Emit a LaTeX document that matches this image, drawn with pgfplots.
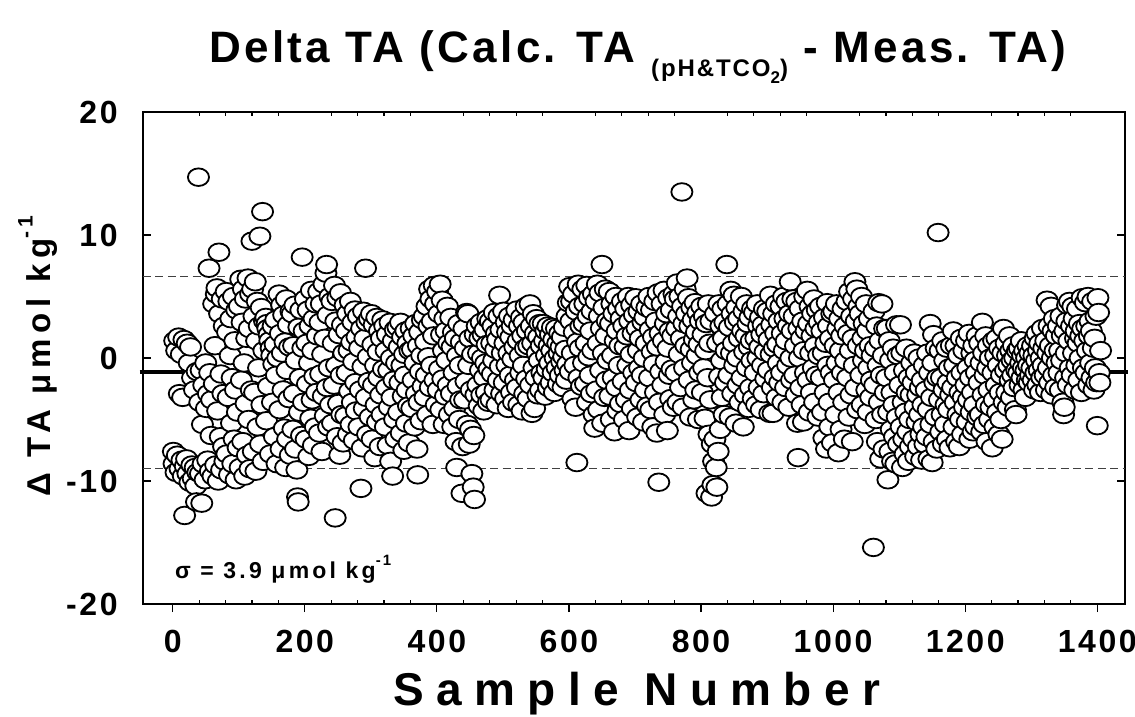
\documentclass[border=0pt]{standalone}
\usepackage{fontspec}
\setmainfont{Liberation Sans}
\newfontfamily\lsT[LetterSpace=7.5]{Liberation Sans}
\newfontfamily\lsX[LetterSpace=27]{Liberation Sans}
\newfontfamily\lsY[LetterSpace=18]{Liberation Sans}
\newfontfamily\lsK[LetterSpace=8]{Liberation Sans}
\newfontfamily\lsS[LetterSpace=14]{Liberation Sans}
\usepackage{pgfplots}
\pgfplotsset{compat=1.18}
\begin{document}
\begin{tikzpicture}
\path[use as bounding box] (0,0) rectangle (567.5pt,-358.5pt);
\begin{axis}[
  at={(71.5pt,-302pt)}, anchor=south west,
  scale only axis, width=491pt, height=246pt,
  xmin=-45, xmax=1442, ymin=-20, ymax=20,
  clip=false,
  xtick={0,200,400,600,800,1000,1200,1400},
  xticklabels={0,200,400,600,800,1000,1200,1400},
  ytick={-20,-10,0,10,20},
  yticklabels={-20,-10,0,10,20},
  minor x tick num=4,
  tick align=inside,
  major x tick style={draw=none},
  major tick length=4pt, minor tick length=1.8pt,
  tick style={line width=0.6pt, black},
  axis line style={line width=0.8pt},
  ticklabel style={font=\lsK\bfseries\fontsize{16}{17}\selectfont, inner sep=0pt},
  xticklabel style={anchor=center, yshift=-18.5pt},
  yticklabel style={anchor=east, xshift=-12.5pt},
]
\addplot[black!75, line width=0.5pt, dash pattern=on 4pt off 2.2pt] coordinates {(-45,6.65) (1442,6.65)};
\addplot[black!75, line width=0.5pt, dash pattern=on 4pt off 2.2pt] coordinates {(-45,-8.95) (1442,-8.95)};
\addplot[black, line width=2pt] coordinates {(-50,-1.15) (1446,-1.15)};
\addplot[only marks, mark=*, mark size=4.4pt, mark options={fill=white, draw=black, line width=0.9pt, xscale=1.2}] coordinates {
(1,-7.6) (2,-8.6) (3,1.4) (5,-9.3) (6,0.6) (7,-7.9) (9,1.7) (10,-2.9) (11,-9.0) (13,0.3) (14,-8.3) (15,-3.2) (16,-9.6) (17,1.5) (18,-12.8) (19,-8.8)
(21,-8.2) (22,1.2) (23,-9.4) (25,-0.4) (26,-10.1) (27,0.9) (29,-8.7) (30,-1.6) (31,-9.8) (33,-2.6) (34,-8.9) (35,-10.4) (36,-11.7) (37,-1.1) (38,-9.3) (39,14.7)
(41,-3.6) (42,-9.4) (43,-1.0) (44,-11.8) (45,-5.4) (46,-8.6) (47,-2.2) (49,-9.9) (50,-0.4) (51,-4.1) (53,-8.3) (54,-2.9) (55,7.3) (56,-1.2) (57,-9.2) (58,-6.3) (59,-3.4)
(61,-9.6) (62,4.4) (63,-2.1) (64,1.0) (65,-8.7) (66,5.2) (67,5.7) (68,-4.3) (69,-10.0) (70,8.6) (71,3.6) (72,-6.4) (73,-1.3) (74,-9.1) (75,4.8) (76,-2.9) (77,-7.2) (78,2.6) (79,-8.4)
(81,5.4) (82,-7.8) (83,2.1) (84,-3.2) (85,4.6) (86,-9.5) (87,0.2) (88,3.2) (89,-5.3) (90,-1.6) (91,-8.6) (92,5.0) (93,-6.6) (94,1.4) (95,-2.6) (96,-9.9) (97,3.9) (98,-4.4) (99,-7.3)
(101,4.2) (102,-8.9) (103,6.4) (104,-1.8) (105,2.9) (106,-6.8) (107,5.6) (108,-0.4) (109,-9.6) (110,4.8) (111,-3.7) (112,1.6) (113,-7.9) (114,6.5) (115,-5.0) (116,2.4) (117,-9.0) (118,5.2) (119,-2.6)
(120,9.5) (121,5.6) (122,-7.6) (123,3.4) (124,-2.8) (125,6.2) (126,-9.2) (127,1.4) (128,4.6) (129,-5.6) (130,-0.8) (131,2.6) (132,9.9) (133,-7.0) (134,4.1) (135,-3.8) (136,11.9) (137,-8.4) (138,0.6) (139,3.0)
(141,3.3) (142,-5.1) (143,2.8) (144,2.4) (145,-2.3) (146,1.9) (147,1.4) (148,-7.8) (149,0.8) (150,0.2) (151,-3.6) (152,2.6) (153,-0.5) (154,-6.4) (155,1.1) (156,3.1) (157,-1.4) (158,-8.6) (159,0.0)
(161,5.2) (162,-4.2) (163,2.0) (164,-7.4) (165,4.3) (166,0.4) (167,-2.6) (168,3.5) (169,-5.7) (170,1.3) (171,-8.9) (172,4.8) (173,-1.0) (174,-6.6) (175,2.7) (176,-3.3) (177,0.9) (178,-7.9) (179,3.8)
(181,3.6) (182,-5.8) (183,1.0) (184,-2.9) (185,4.3) (186,-7.4) (187,-0.2) (188,-9.1) (189,-11.3) (190,-11.7) (191,2.5) (192,-4.4) (193,-1.6) (194,3.9) (195,-6.3) (196,8.2) (197,0.8) (198,-3.6) (199,2.2)
(201,4.8) (202,-6.6) (203,1.2) (204,-2.1) (205,3.9) (206,-8.0) (207,-0.4) (208,2.6) (209,-4.9) (210,5.5) (211,-3.4) (212,0.6) (213,-7.1) (214,3.2) (215,-1.5) (216,-5.6) (217,4.4) (218,-2.8) (219,1.8)
(221,5.4) (222,-6.1) (223,2.9) (224,-1.3) (225,4.4) (226,-7.6) (227,0.3) (228,-3.1) (229,6.0) (230,1.6) (231,-4.7) (232,6.9) (233,7.6) (234,-2.4) (235,3.5) (236,-5.6) (237,-0.8) (238,5.0) (239,-3.8)
(241,4.6) (242,-5.3) (243,1.2) (244,-2.2) (245,5.9) (246,-13.0) (247,3.0) (248,-0.6) (249,-6.4) (250,4.9) (251,-3.7) (252,1.9) (253,-7.9) (254,5.3) (255,-1.4) (256,-4.6) (257,2.7) (258,-6.9) (259,0.4)
(261,4.3) (262,-4.7) (263,2.2) (264,-1.2) (265,3.6) (266,-6.2) (267,0.6) (268,-2.7) (269,4.6) (270,-5.4) (271,1.3) (272,-3.6) (273,2.9) (274,-0.3) (275,-6.7) (276,3.9) (277,-2.0) (278,-4.3) (279,1.7)
(281,3.4) (282,-5.6) (283,0.8) (284,-2.6) (285,-10.6) (286,2.4) (287,-7.3) (288,-0.7) (289,3.8) (290,-4.1) (291,1.6) (292,7.3) (293,-3.2) (294,2.9) (295,-6.2) (296,0.1) (297,-1.9) (298,3.2) (299,-4.8)
(301,3.6) (302,-6.6) (303,1.1) (304,-2.2) (305,2.7) (306,-8.1) (307,-0.6) (308,-3.8) (309,3.3) (310,-5.2) (311,0.5) (312,-1.6) (313,2.2) (314,-7.2) (315,-3.0) (316,1.6) (317,-4.6) (318,3.1) (319,-0.9)
(321,2.6) (322,-5.6) (323,0.6) (324,-2.4) (325,1.9) (326,-7.1) (327,-1.0) (328,-4.0) (329,2.9) (330,-8.4) (331,0.0) (332,-3.2) (333,-9.6) (334,1.4) (335,-1.8) (336,-5.0) (337,2.3) (338,-6.6) (339,-0.4)
(341,2.5) (342,-4.4) (343,0.9) (344,-2.0) (345,2.9) (346,-6.1) (347,-0.6) (348,1.7) (349,-3.1) (350,-7.5) (351,0.3) (352,-1.4) (353,2.2) (354,-5.3) (355,-2.6) (356,1.2) (357,-3.9) (358,-6.9) (359,0.6)
(361,2.4) (362,-4.1) (363,0.7) (364,-1.8) (365,1.8) (366,-5.6) (367,-0.4) (368,2.8) (369,-2.9) (370,-7.4) (371,-9.5) (372,1.0) (373,-3.6) (374,2.1) (375,-1.1) (376,-5.1) (377,0.2) (378,3.1) (379,-2.3)
(381,3.4) (382,-3.2) (383,1.3) (384,-1.4) (385,4.2) (386,-4.6) (387,0.1) (388,2.6) (389,5.6) (390,-2.4) (391,4.8) (392,-0.6) (393,3.0) (394,-5.4) (395,1.8) (396,5.9) (397,-1.8) (398,4.4) (399,-3.8)
(401,5.4) (402,-2.6) (403,3.6) (404,-0.9) (405,6.0) (406,-4.2) (407,1.9) (408,4.7) (409,-1.7) (410,0.6) (411,-5.4) (412,3.2) (413,-3.1) (414,2.2) (415,-0.2) (416,4.2) (417,-2.2) (418,1.2) (419,-4.6)
(421,3.3) (422,-2.9) (423,0.9) (424,-5.6) (425,2.1) (426,-1.2) (427,-4.1) (428,1.6) (429,-6.8) (430,-8.9) (431,0.2) (432,-2.3) (433,2.8) (434,-5.0) (435,-0.6) (436,-3.4) (437,1.3) (438,-11.0) (439,-7.2)
(441,2.4) (442,-3.4) (443,0.8) (444,-1.9) (445,3.7) (446,-5.4) (447,3.6) (448,-0.6) (449,-7.0) (450,1.6) (451,-5.8) (452,-2.6) (453,-9.4) (454,0.3) (455,-10.5) (456,-6.3) (457,-11.5) (458,1.9) (459,-3.0)
(461,2.6) (462,-2.2) (463,0.4) (464,-3.9) (465,1.6) (466,-1.0) (467,2.9) (468,-3.0) (469,0.0) (470,1.9) (471,-4.3) (472,-1.6) (473,2.3) (474,-0.4) (475,-2.8) (476,1.1) (477,3.2) (478,-3.6) (479,-0.9)
(481,3.0) (482,-3.4) (483,1.2) (484,-1.3) (485,2.6) (486,-0.2) (487,3.7) (488,-2.6) (489,0.7) (490,2.0) (491,-3.8) (492,1.5) (493,-1.8) (494,3.4) (495,5.1) (496,-0.7) (497,2.3) (498,-2.9) (499,0.4)
(501,3.8) (502,-2.0) (503,1.2) (504,-3.3) (505,2.9) (506,-0.6) (507,2.1) (508,-4.1) (509,0.4) (510,3.4) (511,-1.4) (512,1.7) (513,-2.8) (514,2.6) (515,-0.1) (516,-3.6) (517,3.1) (518,0.9) (519,-1.8)
(521,3.9) (522,-2.4) (523,1.4) (524,-3.8) (525,2.6) (526,0.2) (527,-1.2) (528,3.3) (529,-4.3) (530,1.8) (531,-0.6) (532,2.9) (533,-2.9) (534,0.8) (535,4.2) (536,-1.7) (537,2.2) (538,-3.3) (539,1.0)
(541,4.4) (542,-2.2) (543,2.6) (544,-4.5) (545,1.2) (546,3.6) (547,-0.8) (548,-4.1) (549,2.0) (550,-1.6) (551,3.2) (552,0.4) (553,-3.0) (554,1.7) (555,-0.2) (556,2.8) (557,-2.6) (558,1.0) (559,-1.2)
(561,2.8) (562,-1.6) (563,1.4) (564,-3.1) (565,2.2) (566,0.2) (567,-0.9) (568,2.6) (569,-2.4) (570,1.0) (571,-0.4) (572,1.9) (573,-2.0) (574,0.6) (575,2.5) (576,-1.2) (577,1.5) (578,-2.8) (579,0.0)
(581,2.4) (582,-0.8) (583,1.2) (584,-2.1) (585,0.4) (586,2.0) (587,-1.4) (588,0.9) (589,-0.3) (590,1.7) (591,-2.4) (592,0.1) (593,2.5) (594,-1.0) (595,0.7) (596,-1.8) (597,3.4) (598,-0.5) (599,4.5)
(601,5.8) (602,-1.1) (603,3.0) (604,4.6) (605,0.4) (606,-3.3) (607,5.2) (608,2.1) (609,-0.6) (610,-4.0) (611,3.8) (612,-8.5) (613,1.3) (614,6.0) (615,-1.6) (616,4.2) (617,0.8) (618,2.6) (619,-2.3)
(621,5.6) (622,-0.4) (623,2.8) (624,4.4) (625,-2.1) (626,1.2) (627,5.9) (628,-3.6) (629,3.4) (630,0.1) (631,4.9) (632,-1.4) (633,2.2) (634,-2.9) (635,3.8) (636,0.6) (637,5.2) (638,-4.6) (639,-5.7)
(641,4.6) (642,-2.6) (643,6.0) (644,1.2) (645,-4.2) (646,3.4) (647,5.3) (648,-1.0) (649,2.4) (650,7.6) (651,-5.3) (652,0.4) (653,4.1) (654,-3.2) (655,5.6) (656,1.8) (657,-1.8) (658,3.0) (659,-0.2)
(661,5.4) (662,-3.1) (663,2.8) (664,-5.0) (665,4.4) (666,0.2) (667,-1.6) (668,3.6) (669,-6.0) (670,1.4) (671,5.0) (672,-2.4) (673,2.2) (674,-4.3) (675,4.0) (676,-0.6) (677,1.0) (678,-3.7) (679,3.2)
(681,4.6) (682,-1.9) (683,2.6) (684,-5.0) (685,0.9) (686,4.0) (687,-3.4) (688,1.8) (689,-0.6) (690,5.0) (691,-5.9) (692,3.0) (693,-2.6) (694,0.3) (695,4.3) (696,-4.1) (697,2.0) (698,-1.2) (699,3.5)
(701,4.9) (702,-2.0) (703,2.4) (704,-4.8) (705,0.6) (706,3.8) (707,-0.8) (708,1.6) (709,-3.4) (710,4.4) (711,-1.4) (712,2.9) (713,-5.2) (714,0.0) (715,3.3) (716,-2.6) (717,1.2) (718,4.1) (719,-3.9)
(721,5.0) (722,-1.6) (723,2.3) (724,-4.2) (725,3.9) (726,0.5) (727,-5.6) (728,1.7) (729,-0.5) (730,4.6) (731,-2.8) (732,3.0) (733,-6.1) (734,0.9) (735,5.3) (736,-10.1) (737,-3.6) (738,2.0) (739,-1.1)
(741,4.4) (742,-2.2) (743,1.4) (744,5.5) (745,-4.6) (746,2.8) (747,-0.3) (748,3.6) (749,-5.9) (750,0.8) (751,4.9) (752,-1.4) (753,2.2) (754,-3.3) (755,3.9) (756,-0.9) (757,1.8) (758,-4.0) (759,5.2)
(761,4.8) (762,-1.2) (763,2.4) (764,6.1) (765,-3.6) (766,3.4) (767,0.3) (768,5.0) (769,-2.4) (770,1.6) (771,13.5) (772,4.2) (773,-4.0) (774,2.8) (775,-0.8) (776,5.6) (777,1.0) (778,3.6) (779,6.5)
(781,4.9) (782,-1.8) (783,2.6) (784,-4.8) (785,0.7) (786,4.1) (787,-0.4) (788,3.1) (789,-3.4) (790,1.5) (791,4.5) (792,-2.6) (793,2.1) (794,0.2) (795,3.7) (796,-5.0) (797,1.1) (798,-1.2) (799,3.0)
(801,4.2) (802,-2.8) (803,1.9) (804,-0.8) (805,3.4) (806,-4.9) (807,0.6) (808,2.8) (809,-11.0) (810,-1.6) (811,4.4) (812,-6.2) (813,1.2) (814,-3.4) (815,3.0) (816,-11.3) (817,-7.0) (818,-10.3) (819,-8.4)
(821,-6.6) (822,3.6) (823,-8.9) (824,-10.5) (825,1.2) (826,-7.6) (827,4.4) (828,-1.5) (829,-5.8) (830,2.6) (831,-0.2) (832,-3.2) (833,4.0) (834,1.6) (835,-4.6) (836,2.9) (837,-2.0) (838,0.6) (839,7.6)
(841,4.4) (842,-1.4) (843,2.5) (844,-4.8) (845,5.5) (846,0.4) (847,3.6) (848,-2.9) (849,1.2) (850,5.1) (851,-0.6) (852,2.9) (853,-5.3) (854,4.1) (855,0.0) (856,-2.2) (857,3.2) (858,1.6) (859,-3.6)
(861,5.0) (862,-1.6) (863,2.2) (864,-5.6) (865,3.8) (866,0.5) (867,-3.0) (868,1.8) (869,4.4) (870,-0.8) (871,2.8) (872,-4.1) (873,0.9) (874,3.3) (875,-2.4) (876,1.4) (877,-0.2) (878,4.0) (879,-3.3)
(881,3.7) (882,-1.2) (883,1.6) (884,-3.8) (885,4.4) (886,0.0) (887,2.6) (888,-2.4) (889,0.9) (890,3.3) (891,-4.2) (892,1.9) (893,-0.6) (894,2.7) (895,-2.9) (896,4.0) (897,0.5) (898,-1.7) (899,2.2)
(901,3.8) (902,-1.0) (903,1.5) (904,-4.5) (905,5.1) (906,0.3) (907,2.7) (908,-2.4) (909,-4.5) (910,3.6) (911,0.8) (912,-1.6) (913,2.0) (914,4.4) (915,-3.2) (916,1.1) (917,-0.4) (918,3.0) (919,-2.0)
(921,4.2) (922,-1.2) (923,2.0) (924,-3.6) (925,5.0) (926,0.6) (927,3.2) (928,-2.4) (929,1.4) (930,4.6) (931,-0.6) (932,2.6) (933,-4.0) (934,3.6) (935,6.2) (936,0.0) (937,-1.8) (938,2.2) (939,4.8)
(941,3.4) (942,-1.4) (943,1.0) (944,-3.0) (945,4.6) (946,-5.3) (947,-8.1) (948,2.4) (949,0.0) (950,4.0) (951,-2.4) (952,1.6) (953,-3.8) (954,3.0) (955,-5.2) (956,0.6) (957,5.0) (958,-1.2) (959,2.2)
(961,5.5) (962,-1.8) (963,2.8) (964,-4.4) (965,4.2) (966,0.4) (967,-2.8) (968,1.8) (969,3.6) (970,-0.8) (971,4.8) (972,-3.6) (973,1.0) (974,2.4) (975,-1.4) (976,3.9) (977,-4.8) (978,0.2) (979,2.9)
(981,4.2) (982,-1.6) (983,2.2) (984,-4.4) (985,0.4) (986,-6.5) (987,3.3) (988,-2.8) (989,1.2) (990,-7.4) (991,4.5) (992,-0.6) (993,2.6) (994,-3.6) (995,-5.6) (996,1.6) (997,-1.2) (998,3.6) (999,-6.9)
(1001,3.8) (1002,-1.8) (1003,1.0) (1004,-4.6) (1005,4.4) (1006,-0.4) (1007,2.4) (1008,-7.7) (1009,-2.8) (1010,3.2) (1011,0.6) (1012,-5.8) (1013,1.8) (1014,-1.2) (1015,4.0) (1016,-3.6) (1017,-6.6) (1018,2.6) (1019,-0.2)
(1021,4.6) (1022,-1.6) (1023,2.0) (1024,-4.8) (1025,5.4) (1026,0.6) (1027,-3.0) (1028,3.4) (1029,-6.8) (1030,1.6) (1031,4.8) (1032,-0.6) (1033,6.2) (1034,-2.4) (1035,3.0) (1036,5.6) (1037,-4.2) (1038,1.0) (1039,4.2)
(1041,3.6) (1042,-1.4) (1043,5.0) (1044,-3.8) (1045,1.6) (1046,-0.2) (1047,2.8) (1048,-5.4) (1049,0.6) (1050,4.4) (1051,-2.6) (1052,2.2) (1053,-4.4) (1054,-0.8) (1055,3.2) (1056,1.0) (1057,-3.2) (1058,-1.8) (1059,0.2)
(1061,-15.4) (1062,3.8) (1063,-2.2) (1064,0.8) (1065,-5.0) (1066,2.6) (1067,-6.8) (1068,-0.6) (1069,4.5) (1070,-3.6) (1071,1.4) (1072,-8.2) (1073,-1.4) (1074,4.4) (1075,-4.6) (1076,0.2) (1077,-7.4) (1078,2.4) (1079,-2.8)
(1081,-1.6) (1082,2.4) (1083,-9.9) (1084,-4.4) (1085,1.4) (1086,-7.6) (1087,-0.2) (1088,-5.8) (1089,-2.8) (1090,-8.4) (1091,0.8) (1092,-3.8) (1093,-6.4) (1094,-1.2) (1095,-8.6) (1096,2.7) (1097,-4.8) (1098,0.2) (1099,-7.0)
(1101,-2.2) (1102,2.7) (1103,-5.6) (1104,0.4) (1105,-8.9) (1106,-3.6) (1107,-6.6) (1108,-1.0) (1109,-7.8) (1110,-4.4) (1111,0.8) (1112,-2.8) (1113,-6.0) (1114,-8.4) (1115,-1.6) (1116,-5.0) (1117,-7.2) (1118,-3.0) (1119,-0.4)
(1121,-2.0) (1122,-6.6) (1123,0.4) (1124,-4.0) (1125,-8.0) (1126,-1.2) (1127,-5.2) (1128,-3.0) (1129,-7.2) (1130,0.0) (1131,-4.6) (1132,-2.4) (1133,-6.2) (1134,-8.3) (1135,-1.8) (1136,-3.8) (1137,-5.6) (1138,-0.6) (1139,-7.0)
(1141,-2.6) (1142,-6.4) (1143,0.4) (1144,-4.2) (1145,-8.2) (1146,-1.2) (1147,2.8) (1148,-5.4) (1149,-3.2) (1150,-8.5) (1151,-0.4) (1152,1.9) (1153,-6.8) (1154,-2.0) (1155,-4.8) (1156,0.8) (1157,-7.4) (1158,-1.6) (1159,10.2)
(1161,-3.4) (1162,0.6) (1163,-6.0) (1164,-1.6) (1165,-4.6) (1166,1.4) (1167,-7.0) (1168,-2.6) (1169,-0.2) (1170,-5.4) (1171,-3.8) (1172,0.8) (1173,-6.6) (1174,-2.0) (1175,-4.2) (1176,-0.8) (1177,-7.3) (1178,-3.0) (1179,1.0)
(1181,-2.4) (1182,2.2) (1183,-5.6) (1184,-0.6) (1185,-3.6) (1186,1.0) (1187,-6.8) (1188,-1.6) (1189,-4.6) (1190,0.2) (1191,-7.2) (1192,-2.8) (1193,-5.0) (1194,1.6) (1195,-1.2) (1196,-6.2) (1197,-3.2) (1198,0.6) (1199,-4.0)
(1201,-2.2) (1202,1.4) (1203,-5.2) (1204,-0.8) (1205,-3.4) (1206,2.0) (1207,-6.6) (1208,-1.6) (1209,-4.4) (1210,0.4) (1211,-2.8) (1212,-6.0) (1213,1.0) (1214,-3.8) (1215,-0.2) (1216,-5.6) (1217,-1.2) (1218,1.8) (1219,-4.8)
(1221,-2.0) (1222,1.2) (1223,-4.6) (1224,-0.4) (1225,-6.0) (1226,2.9) (1227,-3.0) (1228,0.4) (1229,-5.4) (1230,-1.4) (1231,1.8) (1232,-3.8) (1233,-6.8) (1234,-0.8) (1235,1.0) (1236,-2.6) (1237,-5.0) (1238,0.0) (1239,-4.0)
(1241,-7.3) (1242,-1.2) (1243,1.4) (1244,-3.4) (1245,-5.6) (1246,0.2) (1247,-2.2) (1248,1.6) (1249,-4.4) (1250,-0.6) (1251,-6.2) (1252,0.8) (1253,-2.8) (1254,-5.0) (1255,-1.4) (1256,-6.6) (1257,0.4) (1258,2.4) (1259,-3.6)
(1261,-1.0) (1262,1.2) (1263,-2.8) (1264,0.2) (1265,-4.0) (1266,-0.6) (1267,1.8) (1268,-1.8) (1269,0.6) (1270,-3.2) (1271,-0.2) (1272,-1.4) (1273,1.0) (1274,-2.4) (1275,0.0) (1276,-4.2) (1277,-4.6) (1278,-1.0) (1279,0.6)
(1281,-1.2) (1282,0.8) (1283,-2.2) (1284,-0.4) (1285,1.4) (1286,-1.6) (1287,0.2) (1288,-0.8) (1289,-2.6) (1290,0.6) (1291,-3.2) (1292,-1.0) (1293,0.0) (1294,-1.8) (1295,1.0) (1296,-0.6) (1297,-2.0) (1298,0.4) (1299,-1.4)
(1301,-0.8) (1302,1.0) (1303,-1.8) (1304,0.2) (1305,-2.6) (1306,1.6) (1307,-1.2) (1308,-0.2) (1309,2.0) (1310,-2.2) (1311,0.6) (1312,-1.0) (1313,1.2) (1314,-2.8) (1315,0.0) (1316,-1.6) (1317,2.4) (1318,-0.6) (1319,0.8)
(1321,-1.4) (1322,1.4) (1323,-2.6) (1324,4.7) (1325,0.4) (1326,-0.8) (1327,2.6) (1328,-2.0) (1329,1.0) (1330,4.2) (1331,-3.0) (1332,0.0) (1333,2.2) (1334,-1.4) (1335,3.2) (1336,0.6) (1337,-2.4) (1338,1.8) (1339,-0.4)
(1341,2.6) (1342,-1.2) (1343,0.6) (1344,-2.6) (1345,3.4) (1346,-0.2) (1347,1.8) (1348,-3.6) (1349,-4.6) (1350,-4.0) (1351,2.2) (1352,-1.6) (1353,0.4) (1354,3.0) (1355,4.3) (1356,-2.2) (1357,1.4) (1358,4.6) (1359,-0.8)
(1361,2.6) (1362,-1.4) (1363,4.2) (1364,0.4) (1365,3.2) (1366,-2.6) (1367,1.6) (1368,2.2) (1369,-0.6) (1370,4.0) (1371,1.2) (1372,-1.8) (1373,2.8) (1374,0.0) (1375,1.8) (1376,-2.8) (1377,4.9) (1378,2.4) (1379,-0.8)
(1381,1.4) (1382,4.5) (1383,-1.2) (1384,2.6) (1385,0.6) (1386,5.0) (1387,-2.2) (1388,1.8) (1389,3.0) (1390,-0.4) (1391,2.2) (1392,-1.6) (1393,4.6) (1394,0.8) (1395,-2.6) (1396,1.6) (1397,-0.8) (1398,3.4) (1399,-2.0)
(1400,-5.5) (1401,4.9) (1402,3.7) (1403,-1.2) (1404,-2.0) (1405,0.6)
};
\end{axis}
\begin{axis}[
  at={(71.5pt,-302pt)}, anchor=south west,
  scale only axis, width=491pt, height=246pt,
  xmin=-45, xmax=1442, ymin=-20, ymax=20,
  axis x line*=bottom, axis y line=none,
  x axis line style={-, line width=0.8pt},
  xtick={0,200,400,600,800,1000,1200,1400}, xticklabels={},
  minor x tick num=0,
  tick align=outside, major tick length=4pt,
  tick style={line width=0.6pt, black},
]
\end{axis}
\node[anchor=base, font=\lsT\bfseries\fontsize{22}{24}\selectfont] at (319pt,-31.5pt)
  {Delta TA (Calc. TA \raisebox{-0.3em}{\lsK\fontsize{12}{13}\selectfont(pH\&TCO\raisebox{-0.3em}{\fontsize{8.5}{8.5}\selectfont 2})} - Meas. TA)};
\node[anchor=base, font=\lsX\bfseries\fontsize{23}{25}\selectfont] at (318.5pt,-352.5pt) {Sample Number};
\node[rotate=90, anchor=center, font=\lsY\bfseries\fontsize{16.5}{18}\selectfont] at (19pt,-178pt)
  {Δ TA μmol kg\raisebox{0.55em}{\fontsize{10.5}{10.5}\selectfont -1}};
\node[anchor=base west, font=\lsS\bfseries\fontsize{11.5}{13}\selectfont] at (84pt,-289pt)
  {σ = 3.9 μmol kg\raisebox{0.55em}{\fontsize{7.5}{7.5}\selectfont -1}};
\end{tikzpicture}
\end{document}
